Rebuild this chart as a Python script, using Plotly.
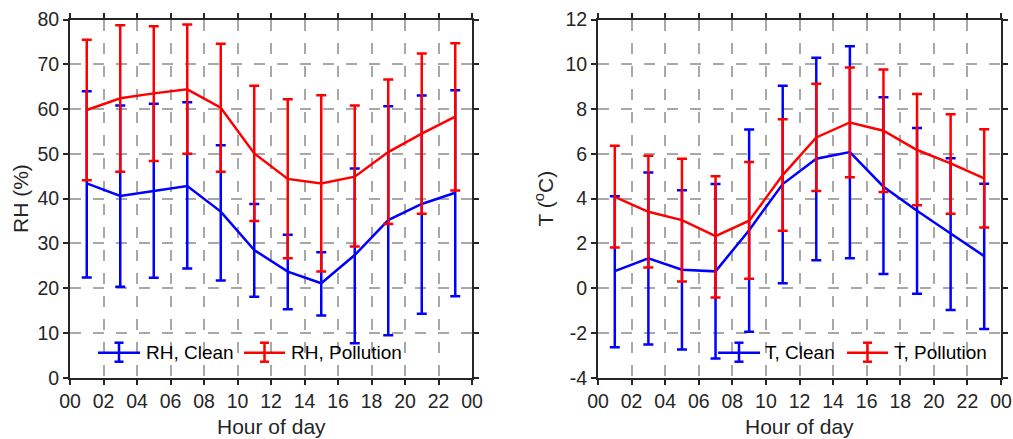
import plotly.graph_objects as go

hours = [1, 3, 5, 7, 9, 11, 13, 15, 17, 19, 21, 23]
tick_vals = list(range(0, 25, 2))
tick_text = ["00", "02", "04", "06", "08", "10", "12", "14", "16", "18", "20", "22", "00"]
rh_ticks = list(range(0, 81, 10))
t_ticks = list(range(-4, 13, 2))
t_tick_text = [str(v) for v in t_ticks]  # plain hyphen minus as in the original

# RH (%) clean
rh_clean_mean = [43.4, 40.6, 41.7, 42.8, 37.1, 28.5, 23.7, 21.1, 27.4, 35.2, 38.8, 41.3]
rh_clean_upper = [64.0, 60.8, 61.2, 61.5, 51.9, 38.8, 31.9, 28.0, 46.7, 60.6, 63.0, 64.2]
rh_clean_lower = [22.4, 20.3, 22.3, 24.4, 21.7, 18.1, 15.3, 13.9, 7.7, 9.5, 14.3, 18.2]
# RH (%) pollution
rh_poll_mean = [59.8, 62.4, 63.5, 64.4, 60.3, 50.1, 44.4, 43.4, 44.9, 50.4, 54.5, 58.3]
rh_poll_upper = [75.5, 78.7, 78.5, 78.9, 74.6, 65.2, 62.2, 63.1, 60.8, 66.6, 72.4, 74.7]
rh_poll_lower = [44.1, 46.0, 48.4, 50.0, 46.0, 35.0, 26.7, 23.7, 29.3, 34.3, 36.6, 41.8]

# T (degC) clean
t_clean_mean = [0.76, 1.33, 0.82, 0.75, 2.59, 4.65, 5.78, 6.08, 4.53, 3.46, 2.44, 1.43]
t_clean_upper = [4.11, 5.17, 4.37, 4.65, 7.09, 9.04, 10.29, 10.81, 8.53, 7.15, 5.80, 4.66]
t_clean_lower = [-2.64, -2.52, -2.74, -3.14, -1.95, 0.22, 1.25, 1.34, 0.63, -0.25, -0.98, -1.83]
# T (degC) pollution
t_poll_mean = [4.08, 3.41, 3.04, 2.32, 3.01, 5.05, 6.73, 7.40, 7.03, 6.17, 5.57, 4.90]
t_poll_upper = [6.36, 5.91, 5.78, 5.00, 5.63, 7.54, 9.13, 9.86, 9.77, 8.67, 7.77, 7.10]
t_poll_lower = [1.82, 0.92, 0.30, -0.42, 0.42, 2.56, 4.34, 4.95, 4.30, 3.70, 3.32, 2.71]

BLUE = "#0000ff"
RED = "#ff0000"
FONT = "Liberation Sans, Arial, Helvetica, sans-serif"
W, H = 1013, 439
LW = 2.5


def px(x):
    return x / W


def py(y):
    return (H - y) / H


def trace(x, mean, upper, lower, name, color, xa, ya):
    return go.Scatter(
        x=x, y=mean, name=name, mode="lines", showlegend=False,
        line=dict(color=color, width=LW),
        error_y=dict(
            type="data", symmetric=False,
            array=[u - m for u, m in zip(upper, mean)],
            arrayminus=[m - l for m, l in zip(mean, lower)],
            color=color, thickness=LW, width=5,
        ),
        xaxis=xa, yaxis=ya,
    )


fig = go.Figure()
fig.add_trace(trace(hours, rh_clean_mean, rh_clean_upper, rh_clean_lower, "RH, Clean", BLUE, "x", "y"))
fig.add_trace(trace(hours, rh_poll_mean, rh_poll_upper, rh_poll_lower, "RH, Pollution", RED, "x", "y"))
fig.add_trace(trace(hours, t_clean_mean, t_clean_upper, t_clean_lower, "T, Clean", BLUE, "x2", "y2"))
fig.add_trace(trace(hours, t_poll_mean, t_poll_upper, t_poll_lower, "T, Pollution", RED, "x2", "y2"))

axis_common = dict(
    showline=True, mirror="ticks", linecolor="#262626", linewidth=2,
    ticks="outside", ticklen=5, tickwidth=2, tickcolor="#262626",
    showgrid=True, gridcolor="#a8a8a8", gridwidth=2, griddash="11px,12px",
    zeroline=False, automargin=False,
    tickfont=dict(size=19.5, color="#262626", family=FONT),
    title_font=dict(size=21, color="#262626", family=FONT),
)

ydom = [py(377.7), py(19.5)]
fig.update_layout(
    width=W, height=H,
    margin=dict(l=0, r=0, t=0, b=0),
    paper_bgcolor="white", plot_bgcolor="white",
    font=dict(family=FONT, color="#262626"),
    showlegend=False,
    xaxis=dict(domain=[px(70), px(472)], range=[0, 24], tickvals=tick_vals, ticktext=tick_text,
               anchor="y", **axis_common),
    yaxis=dict(domain=ydom, range=[0, 80], tickvals=rh_ticks,
               title=dict(text="RH (%)", standoff=3), anchor="x", **axis_common),
    xaxis2=dict(domain=[px(598), px(1001)], range=[0, 24], tickvals=tick_vals, ticktext=tick_text,
                anchor="y2", **axis_common),
    yaxis2=dict(domain=ydom, range=[-4, 12], tickvals=t_ticks, ticktext=t_tick_text,
                title=dict(text="T (<sup>o</sup>C)", standoff=6), anchor="x2", **axis_common),
)

# x-axis titles placed as in the original
for xc in ((70 + 472) / 2, (598 + 1001) / 2):
    fig.add_annotation(xref="paper", yref="paper", x=px(xc), y=py(426), text="Hour of day",
                       showarrow=False, xanchor="center", yanchor="middle",
                       font=dict(size=21, color="#262626", family=FONT))

# Hand-built legends (line + error-bar glyph), as in the original figure
legend_boxes = [(88, 406), (717, 994)]
legend_items = [
    # (line x0, line x1, text x, label, color)
    (98, 140, 144, "RH, Clean", BLUE),
    (244, 285, 289, "RH, Pollution", RED),
    (718, 760, 763, "T, Clean", BLUE),
    (847, 888, 892, "T, Pollution", RED),
]
ly = 352.7
for bx0, bx1 in legend_boxes:
    fig.add_shape(type="rect", xref="paper", yref="paper", x0=px(bx0), x1=px(bx1),
                  y0=py(368), y1=py(338), fillcolor="white", line_width=0, layer="between")
for x0, x1, tx, label, color in legend_items:
    xm = (x0 + x1) / 2
    fig.add_shape(type="line", xref="paper", yref="paper", x0=px(x0), x1=px(x1), y0=py(ly), y1=py(ly),
                  line=dict(color=color, width=LW))
    fig.add_shape(type="line", xref="paper", yref="paper", x0=px(xm), x1=px(xm), y0=py(ly - 10), y1=py(ly + 9),
                  line=dict(color=color, width=LW))
    for yy in (ly - 10, ly + 9):
        fig.add_shape(type="line", xref="paper", yref="paper", x0=px(xm - 4.5), x1=px(xm + 4.5),
                      y0=py(yy), y1=py(yy), line=dict(color=color, width=LW))
    fig.add_annotation(xref="paper", yref="paper", x=px(tx), y=py(ly), text=label, showarrow=False,
                       xanchor="left", yanchor="middle", font=dict(size=19, color="#000000", family=FONT))

# remove the browser's default 8px page margin so the figure sits at the window origin
fig.write_html("out.html", config={"displayModeBar": False},
               post_script="document.body.style.margin='0';document.body.style.overflow='hidden';")
